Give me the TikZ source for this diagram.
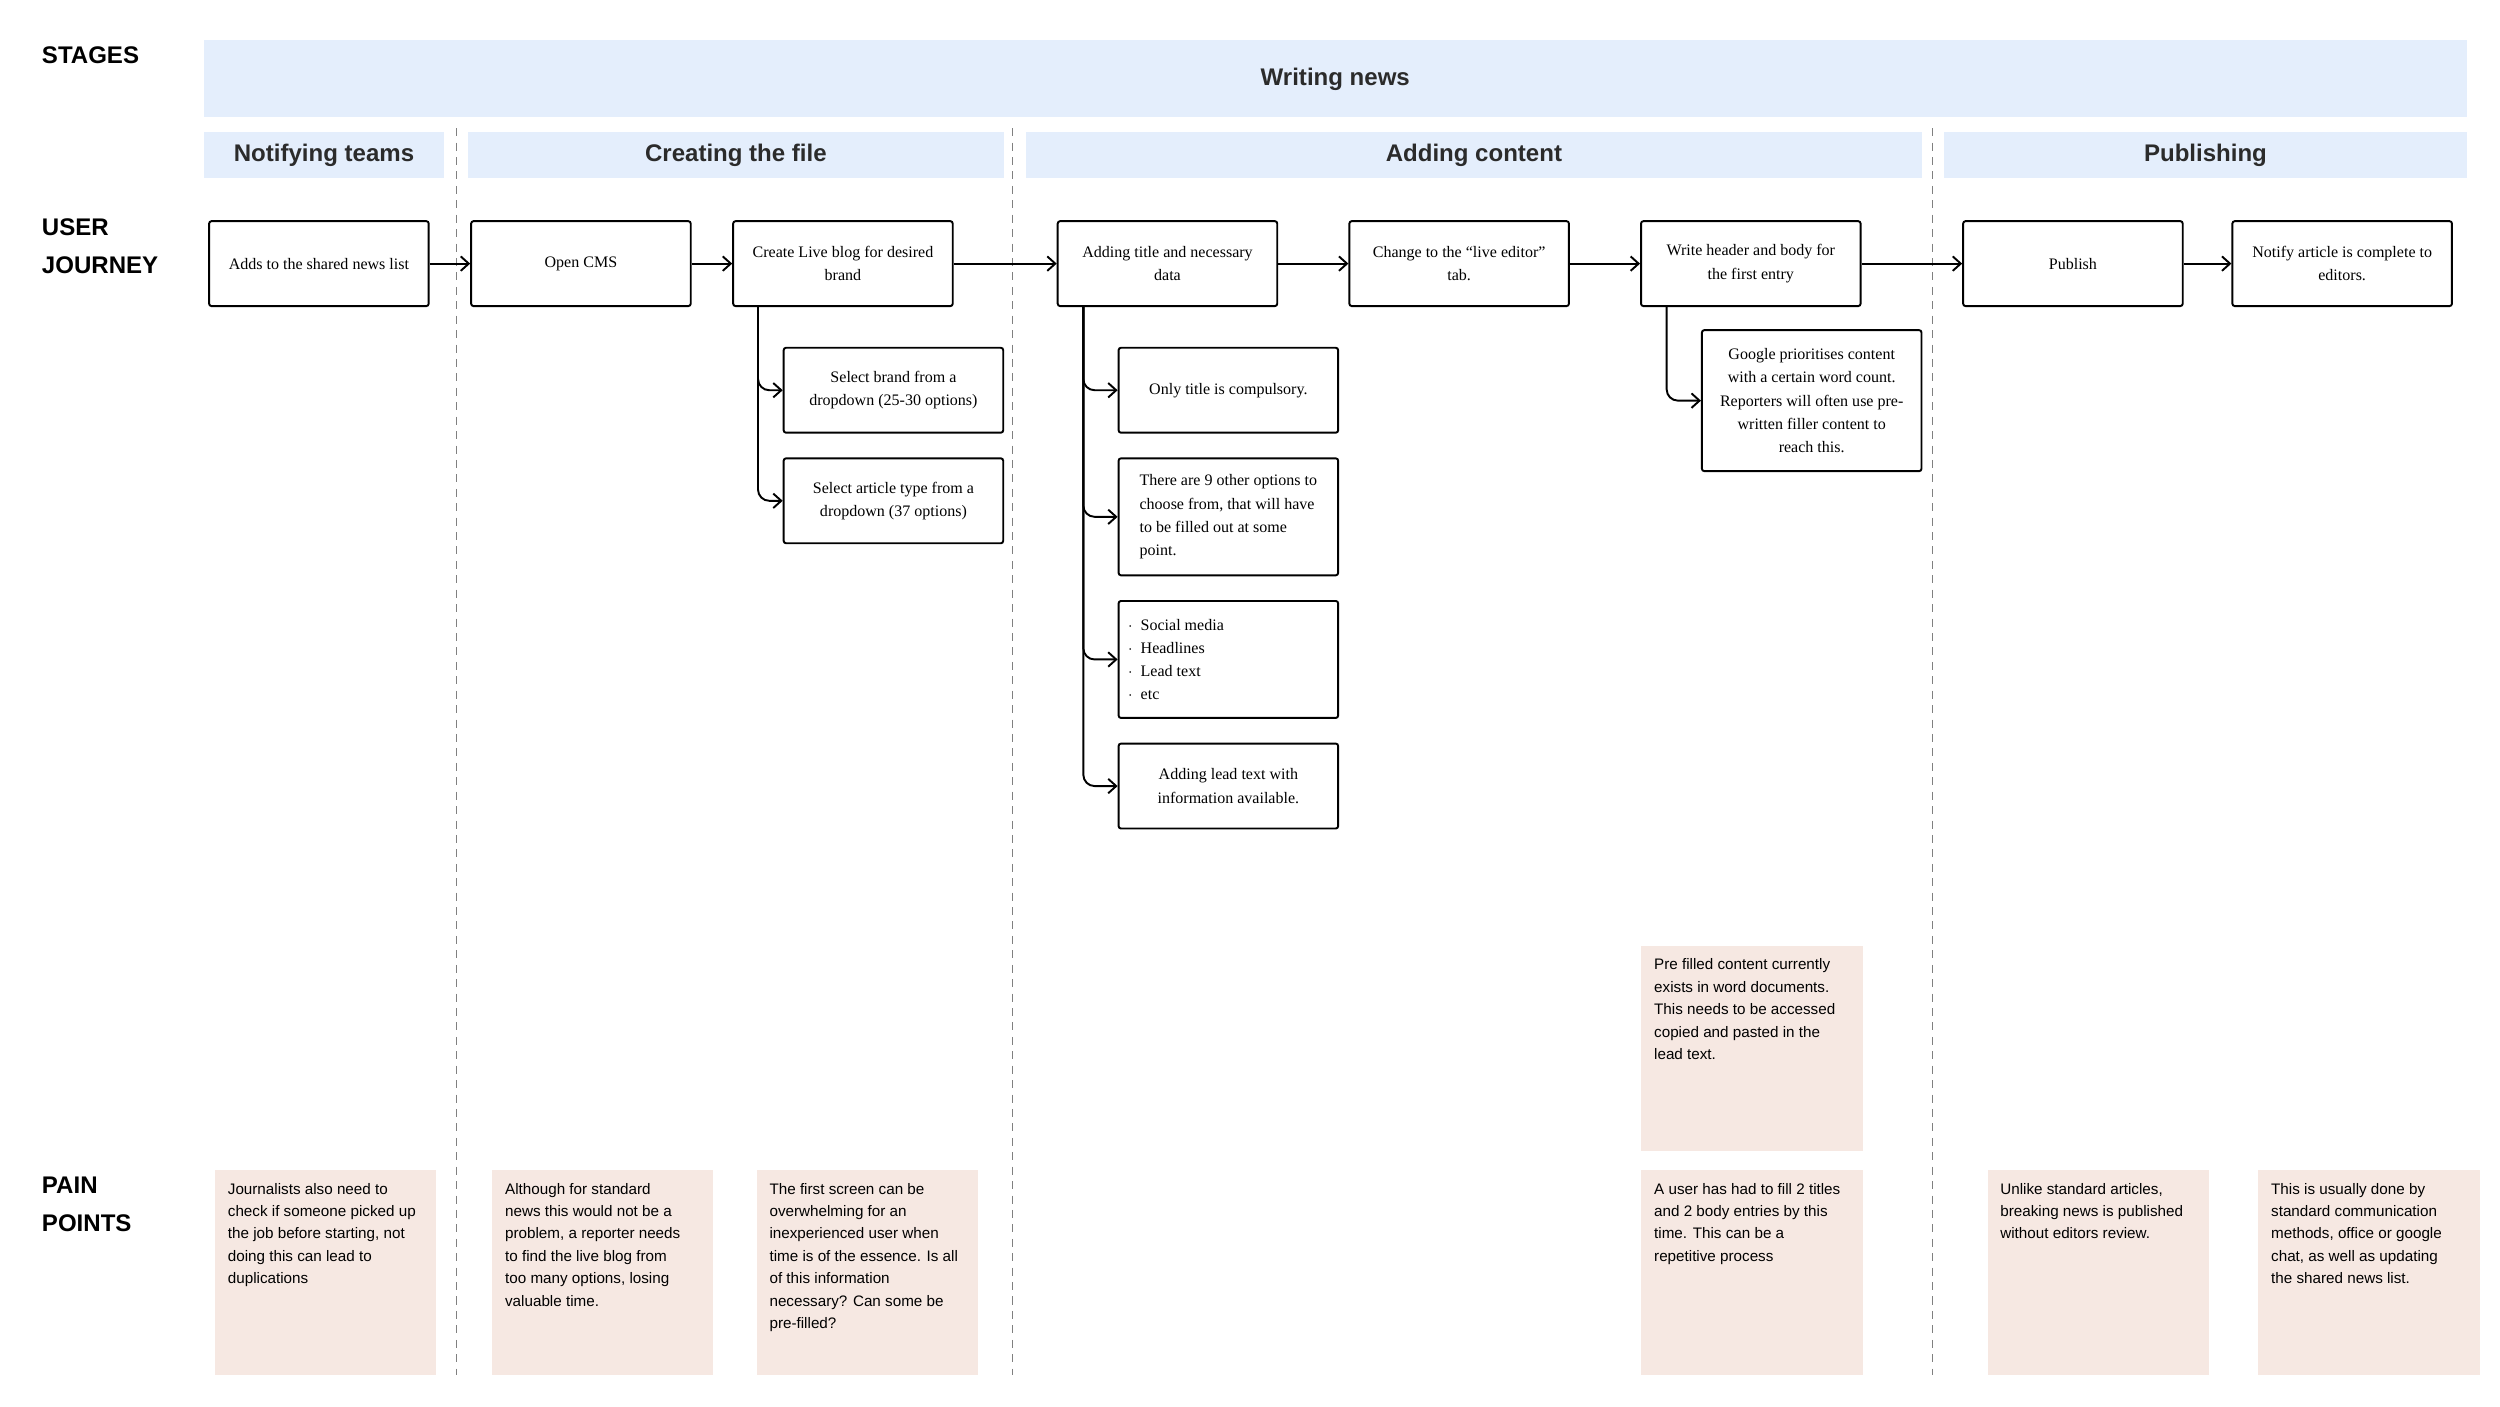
\documentclass[tikz,border=0pt]{standalone}
\usepackage{fontspec}
\setmainfont{Liberation Serif}
\newfontfamily\hsans{Liberation Sans}
\usetikzlibrary{arrows.meta}
\definecolor{bandbg}{HTML}{E4EEFC}
\definecolor{painbg}{HTML}{F6E8E2}
\definecolor{headtxt}{HTML}{2B2B2B}
\tikzset{
  arr/.style={-{Straight Barb[length=5pt,width=9pt]}, line width=1.2pt},
  jstep/.style={draw, line width=1.2pt, rounded corners=1.5pt, minimum width=137pt,
    minimum height=53pt, align=center, inner sep=2pt, font=\fontsize{10}{14.5}\selectfont},
  band/.style={fill=bandbg, inner sep=0pt, text=headtxt, font=\hsans\bfseries\fontsize{15}{18}\selectfont},
  pain/.style={fill=painbg, minimum width=138pt, minimum height=128pt, anchor=north west, inner sep=0pt},
  paintext/.style={anchor=north west, align=left, inner sep=0pt, font=\hsans\fontsize{9.5}{14}\selectfont},
  rowlab/.style={anchor=north west, align=left, inner sep=0pt, font=\hsans\bfseries\fontsize{15}{24}\selectfont},
  lane/.style={dashed, gray, line width=0.8pt, dash pattern=on 5pt off 4pt}
}
\begin{document}
\begin{tikzpicture}[x=1pt,y=-1pt]
\useasboundingbox (0,0) rectangle (1560,877.4);

% stages
\node[rowlab] (lstages) at (26,29) {STAGES};
\node[band, minimum width=1412pt, minimum height=48pt, anchor=north west] (wn) at (127,25) {Writing news};
\node[band, minimum width=150pt, minimum height=29pt, anchor=north west] (st1) at (127,82) {Notifying teams};
\node[band, minimum width=334pt, minimum height=29pt, anchor=north west] (st2) at (292,82) {Creating the file};
\node[band, minimum width=559pt, minimum height=29pt, anchor=north west] (st3) at (640,82) {Adding content};
\node[band, minimum width=326pt, minimum height=29pt, anchor=north west] (st4) at (1213,82) {Publishing};

% lanes
\foreach \lx in {285,632,1206}
  \draw[lane] (\lx,80) -- (\lx,858);

% user journey
\node[rowlab] (ljourney) at (26,136) {USER\\JOURNEY};
\node[jstep] (add) at (199,164.5) {Adds to the shared news list};
\node[jstep] (cms) at (362.5,164.5) {Open CMS};
\node[jstep] (blog) at (526,164.5) {Create Live blog for desired\\brand};
\node[jstep] (title) at (728.5,164.5) {Adding title and necessary\\data};
\node[jstep] (live) at (910.5,164.5) {Change to the “live editor”\\tab.};
\node[jstep] (entry) at (1092.5,164.5) {Write header and body for\\the first entry};
\node[jstep] (pub) at (1293.5,164.5) {Publish};
\node[jstep] (notify) at (1461.5,164.5) {Notify article is complete to\\editors.};

\draw[arr] (add) -- (cms);
\draw[arr] (cms) -- (blog);
\draw[arr] (blog) -- (title);
\draw[arr] (title) -- (live);
\draw[arr] (live) -- (entry);
\draw[arr] (entry) -- (pub);
\draw[arr] (pub) -- (notify);

% sub steps
\node[jstep] (brand) at (557.5,243.5) {Select brand from a\\dropdown (25-30 options)};
\node[jstep] (type) at (557.5,312.5) {Select article type from a\\dropdown (37 options)};
\node[jstep] (only) at (766.5,243.5) {Only title is compulsory.};
\node[jstep, minimum height=73pt, align=left] (nine) at (766.5,322.5) {There are 9 other options to\\choose from, that will have\\to be filled out at some\\point.};
\node[jstep, minimum height=73pt, align=left] (list) at (766.5,411.5) {\makebox[125pt][l]{$\cdot$\ \ Social media}\\$\cdot$\ \ Headlines\\$\cdot$\ \ Lead text\\$\cdot$\ \ etc};
\node[jstep] (lead) at (766.5,490.5) {Adding lead text with\\information available.};
\node[jstep, minimum height=88pt] (google) at (1130.5,250) {Google prioritises content\\with a certain word count.\\Reporters will often use pre-\\written filler content to\\reach this.};

\coordinate (bb) at (473,191);
\coordinate (tb) at (676,191);
\coordinate (eb) at (1040,191);
\draw[arr, rounded corners=7pt] (bb) |- (brand.west);
\draw[arr, rounded corners=7pt] (bb) |- (type.west);
\draw[arr, rounded corners=7pt] (tb) |- (only.west);
\draw[arr, rounded corners=7pt] (tb) |- (nine.west);
\draw[arr, rounded corners=7pt] (tb) |- (list.west);
\draw[arr, rounded corners=7pt] (tb) |- (lead.west);
\draw[arr, rounded corners=7pt] (eb) |- (google.west);

% pain points
\node[rowlab] (lpain) at (26,734) {PAIN\\POINTS};
\node[pain] (p1) at (134,730) {};
\node[paintext] at ([shift={(8,8)}]p1.north west) {Journalists also need to\\check if someone picked up\\the job before starting, not\\doing this can lead to\\duplications};
\node[pain] (p2) at (307,730) {};
\node[paintext] at ([shift={(8,8)}]p2.north west) {Although for standard\\news this would not be a\\problem, a reporter needs\\to find the live blog from\\too many options, losing\\valuable time.};
\node[pain] (p3) at (472,730) {};
\node[paintext] at ([shift={(8,8)}]p3.north west) {The first screen can be\\overwhelming for an\\inexperienced user when\\time is of the essence. Is all\\of this information\\necessary? Can some be\\pre-filled?};
\node[pain] (p4) at (1024,590) {};
\node[paintext] at ([shift={(8,8)}]p4.north west) {Pre filled content currently\\exists in word documents.\\This needs to be accessed\\copied and pasted in the\\lead text.};
\node[pain] (p5) at (1024,730) {};
\node[paintext] at ([shift={(8,8)}]p5.north west) {A user has had to fill 2 titles\\and 2 body entries by this\\time. This can be a\\repetitive process};
\node[pain] (p6) at (1240,730) {};
\node[paintext] at ([shift={(8,8)}]p6.north west) {Unlike standard articles,\\breaking news is published\\without editors review.};
\node[pain] (p7) at (1409,730) {};
\node[paintext] at ([shift={(8,8)}]p7.north west) {This is usually done by\\standard communication\\methods, office or google\\chat, as well as updating\\the shared news list.};
\end{tikzpicture}
\end{document}
